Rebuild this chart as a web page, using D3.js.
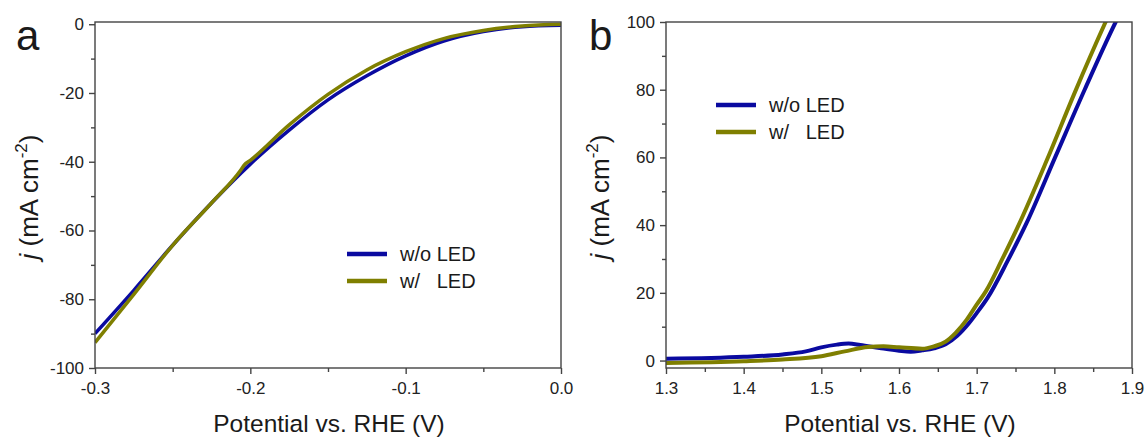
<!DOCTYPE html>
<html>
<head>
<meta charset="utf-8">
<script src="https://cdn.jsdelivr.net/npm/d3@7"></script>
<style>
body { margin: 0; background: #fff; }
text { font-family: Arial, "Liberation Sans", sans-serif; fill: #1a1a1a; }
</style>
</head>
<body>
<div id="content"></div>
<script>
// panel a (HER) values
var aX = [-0.3, -0.275, -0.25, -0.225, -0.2, -0.175, -0.15, -0.125, -0.1, -0.075, -0.05, -0.025, 0];
var aNoLed = [-90, -77.4, -64.3, -52, -40.7, -30.8, -22, -15, -9.2, -4.8, -2.1, -0.7, -0.3];
var aLedX = [-0.3, -0.275, -0.25, -0.225, -0.206, -0.204, -0.2, -0.175, -0.15, -0.125, -0.1, -0.075, -0.05, -0.025, 0];
var aLed = [-92.6, -78.6, -64.3, -52, -42.3, -41, -39.6, -29.3, -20.4, -13.3, -8, -4.1, -1.8, -0.5, 0];

// panel b (OER)
var bNoLedX = [1.3, 1.4, 1.45, 1.48, 1.5, 1.52, 1.535, 1.55, 1.575, 1.6, 1.615, 1.63, 1.645, 1.66, 1.675, 1.69, 1.7, 1.714, 1.74, 1.764, 1.801, 1.839, 1.879, 1.89];
var bNoLed = [0.5, 1.1, 1.8, 2.7, 3.9, 4.7, 5.0, 4.6, 3.7, 2.9, 2.6, 3.0, 3.6, 4.8, 7.3, 11, 14, 18.5, 29.5, 40.5, 60, 80, 100, 105];
var bLedX = [1.3, 1.4, 1.45, 1.5, 1.53, 1.56, 1.58, 1.6, 1.63, 1.645, 1.66, 1.673, 1.687, 1.7, 1.712, 1.733, 1.754, 1.79, 1.826, 1.866, 1.876];
var bLed = [-0.7, -0.2, 0.3, 1.3, 2.7, 4.0, 4.2, 3.9, 3.5, 4.2, 5.6, 8.2, 12, 16.5, 20.5, 30, 40, 59, 79, 100, 105];

var seriesNames = ["w/o LED", "w/   LED"];
var colors = ["#0a0aa0", "#7f7f00"];

var svg = d3.select("#content").append("svg")
	.attr("width", 1145).attr("height", 440);

var hyphen = function(f) {
	return function(d) { return f(d).replace("\u2212", "-"); };
};

var panel = function(opt) {
	var x = d3.scaleLinear().domain(opt.xDomain).range([opt.left, opt.right]);
	var y = d3.scaleLinear().domain(opt.yDomain).range([opt.bottom, opt.top]);
	var g = svg.append("g");

	var clipId = "clip" + opt.letter;
	g.append("clipPath").attr("id", clipId).append("rect")
		.attr("x", opt.left).attr("y", opt.top)
		.attr("width", opt.right - opt.left).attr("height", opt.bottom - opt.top);

	var line = d3.line().curve(d3.curveMonotoneX)
		.x(function(d) { return x(d[0]); }).y(function(d) { return y(d[1]); });

	opt.series.forEach(function(s, i) {
		g.append("path")
			.datum(d3.zip(s.x, s.y))
			.attr("clip-path", "url(#" + clipId + ")")
			.attr("d", line)
			.style("fill", "none").style("stroke", colors[i])
			.style("stroke-width", opt.lw).style("stroke-linejoin", "round");
	});

	// frame
	g.append("rect").attr("x", opt.left).attr("y", opt.top)
		.attr("width", opt.right - opt.left).attr("height", opt.bottom - opt.top)
		.style("fill", "none").style("stroke", "#444").style("stroke-width", 1.4);

	// axes (major + minor)
	var xAxis = d3.axisBottom(x).tickValues(opt.xTicks).tickSize(6).tickFormat(hyphen(d3.format(".1f")));
	var xMinor = d3.axisBottom(x).tickValues(opt.xMinor).tickSize(4).tickFormat("");
	var yAxis = d3.axisLeft(y).tickValues(opt.yTicks).tickSize(6).tickFormat(hyphen(d3.format("d")));
	var yMinor = d3.axisLeft(y).tickValues(opt.yMinor).tickSize(4).tickFormat("");

	[xAxis, xMinor].forEach(function(a) {
		var ax = g.append("g").attr("transform", "translate(0," + opt.bottom + ")").call(a);
		ax.select(".domain").remove();
		ax.selectAll("line").style("stroke", "#444").style("stroke-width", 1.4);
		ax.selectAll("text").style("font-size", "17px").attr("y", 26).attr("dy", 0).style("fill", "#222");
	});
	[yAxis, yMinor].forEach(function(a) {
		var ax = g.append("g").attr("transform", "translate(" + opt.left + ",0)").call(a);
		ax.select(".domain").remove();
		ax.selectAll("line").style("stroke", "#444").style("stroke-width", 1.4);
		ax.selectAll("text").style("font-size", "17px").attr("x", -11).style("fill", "#222");
	});

	// axis titles
	g.append("text").attr("x", (opt.left + opt.right) / 2 + 1).attr("y", 432)
		.attr("text-anchor", "middle").style("font-size", "24.5px")
		.text("Potential vs. RHE (V)");

	var yt = g.append("text")
		.attr("transform", "translate(" + (opt.left - 57) + "," + ((opt.top + opt.bottom) / 2 + 2) + ") rotate(-90)")
		.attr("text-anchor", "middle").style("font-size", "26px");
	yt.append("tspan").style("font-style", "italic").text("j");
	yt.append("tspan").text(" (mA cm");
	yt.append("tspan").attr("dy", -11).style("font-size", "17px").text("-2");
	yt.append("tspan").attr("dy", 11).text(")");

	// panel letter
	g.append("text").attr("x", opt.letterX).attr("y", 50)
		.style("font-size", "42px").text(opt.letter);

	// legend
	seriesNames.forEach(function(name, i) {
		var ly = opt.legY + i * 27;
		g.append("line").attr("x1", opt.legX).attr("x2", opt.legX + 40)
			.attr("y1", ly).attr("y2", ly)
			.style("stroke", colors[i]).style("stroke-width", 4.5);
		g.append("text").attr("x", opt.legX + 53).attr("y", ly + 7)
			.style("font-size", "20px")
			.attr("xml:space", "preserve").text(name);
	});
};

panel({
	letter: "a", letterX: 16,
	left: 95, right: 561, top: 22, bottom: 368,
	xDomain: [-0.3, 0], yDomain: [-100, 0.65],
	xTicks: [-0.3, -0.2, -0.1, 0], xMinor: [-0.25, -0.15, -0.05],
	yTicks: [-100, -80, -60, -40, -20, 0], yMinor: [-90, -70, -50, -30, -10],
	series: [{x: aX, y: aNoLed}, {x: aLedX, y: aLed}],
	lw: 3.5, legX: 347, legY: 254
});

panel({
	letter: "b", letterX: 589,
	left: 666, right: 1132, top: 22, bottom: 368,
	xDomain: [1.3, 1.9], yDomain: [-2.2, 100],
	xTicks: [1.3, 1.4, 1.5, 1.6, 1.7, 1.8, 1.9], xMinor: [1.35, 1.45, 1.55, 1.65, 1.75, 1.85],
	yTicks: [0, 20, 40, 60, 80, 100], yMinor: [10, 30, 50, 70, 90],
	series: [{x: bNoLedX, y: bNoLed}, {x: bLedX, y: bLed}],
	lw: 4, legX: 716, legY: 105
});
</script>
</body>
</html>
